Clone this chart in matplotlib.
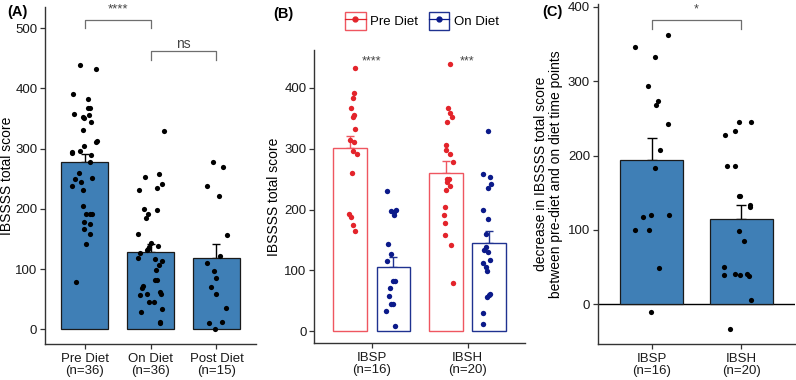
import numpy as np
import matplotlib.pyplot as plt
from matplotlib.patches import Rectangle
from matplotlib.lines import Line2D
from matplotlib.legend_handler import HandlerTuple

plt.rcParams['font.family'] = ['Liberation Sans', 'DejaVu Sans']

# ---- Panel A: all participants ----
a_labels = ['Pre Diet\n(n=36)', 'On Diet\n(n=36)', 'Post Diet\n(n=15)']
a_means = [277, 128, 118]
a_se = [14.5, 13, 24]

a_pre = [439, 431.5, 391, 383, 366.7, 366.7, 357, 352, 351, 355, 344, 331, 312.5, 311,
         305, 295, 293, 296, 290, 277.6, 260, 249, 244, 250.5, 238, 231.7, 204.6,
         191, 191, 191, 178.6, 175, 166, 158.6, 141, 79]
a_pre_jit = [-0.07, 0.18, -0.18, 0.056, 0.045, 0.085, -0.166, -0.03, -0.005, 0.07, 0.105,
             -0.025, 0.187, 0.18, -0.015, -0.185, -0.185, -0.065, 0.096, 0.08, -0.09, -0.15,
             -0.05, 0.116, -0.185, -0.02, -0.03, 0.015, 0.075, 0.115, -0.015, 0.086, -0.01,
             0.09, 0.026, -0.125]
a_on = [329, 253, 257, 242, 231, 235, 199, 198, 191, 185, 159, 144, 139, 134, 131, 136,
        127, 118, 116, 113, 107, 98, 82, 82, 72, 69, 62, 59, 57, 58.6, 46, 45, 33, 29,
        11, 12]
a_on_jit = [0.2, -0.086, 0.125, 0.18, -0.176, 0.105, -0.106, 0.105, -0.045, -0.066, -0.196,
            0.005, 0.12, -0.035, -0.055, -0.02, -0.156, -0.187, 0.065, 0.175, 0.125, 0.08,
            0.065, 0.1, -0.11, -0.125, 0.145, 0.16, -0.156, -0.06, -0.026, 0.055, 0.18,
            -0.146, 0.14, 0.15]
a_post = [277, 269, 238, 221, 156.5, 121.6, 110, 96, 84.6, 71, 59, 35, 12.6, 10, 0.5]
a_post_jit = [-0.056, 0.105, -0.146, 0.04, 0.16, 0.055, -0.146, -0.036, -0.005, -0.086,
              -0.005, 0.15, 0.085, -0.11, -0.015]

# ---- Panel B: by subgroup, pre vs on diet ----
b_labels = ['IBSP\n(n=16)', 'IBSH\n(n=20)']
b_pre_means = [300.5, 260.5]
b_pre_se = [20, 19]
b_on_means = [106, 145]
b_on_se = [16.5, 20]

b_ibsp_pre = [431.8, 391.8, 383.6, 366, 355, 351.4, 331.7, 314, 311.3, 296.6, 290.6, 260.4,
              192, 188, 175, 165]
b_ibsp_pre_jit = [0.055, 0.042, 0.031, 0.003, 0.042, 0.031, 0.049, 0.0, 0.042, 0.024, 0.066,
                  0.014, -0.01, 0.007, 0.028, 0.055]
b_ibsp_on = [231, 198, 196, 198.6, 190.5, 143, 127, 116, 82, 82, 70.6, 58.5, 45.4, 45.4,
             33.3, 9.3]
b_ibsp_on_jit = [-0.067, -0.028, 0.007, 0.027, 0.01, -0.056, -0.021, -0.067, 0.0, 0.021,
                 -0.038, -0.042, -0.028, -0.007, -0.073, 0.014]
b_ibsh_pre = [439.4, 367, 359, 352.4, 344, 306, 297.7, 292, 277.5, 250, 250, 244.6, 238.6,
              232, 204, 191, 178.4, 158.7, 141, 78.8]
b_ibsh_pre_jit = [0.038, 0.024, 0.038, 0.066, 0.006, 0.003, -0.004, 0.04, 0.076, 0.013, 0.03,
                  0.013, 0.038, -0.004, -0.011, -0.022, -0.015, -0.007, 0.048, 0.072]
b_ibsh_on = [329.4, 257.8, 253.9, 242.4, 234.8, 199, 185, 159, 139, 133.5, 130.7, 117, 113,
             105.6, 99, 61.8, 59.6, 56.3, 29.5, 11.5]
b_ibsh_on_jit = [-0.01, -0.063, 0.014, 0.021, -0.014, -0.06, -0.007, -0.028, -0.035, -0.049,
                 -0.014, 0.01, -0.063, -0.035, -0.018, 0.007, -0.003, -0.024, -0.063, -0.063]

# ---- Panel C: decrease in score ----
c_labels = ['IBSP\n(n=16)', 'IBSH\n(n=20)']
c_means = [194, 114]
c_se = [29, 19]
c_ibsp = [362.5, 346, 333.3, 293.4, 273.2, 267.4, 241.8, 208, 183, 116.7, 119.8, 119.8,
          99.2, 99.6, 48, -10.3]
c_ibsp_jit = [0.187, -0.183, 0.041, -0.037, 0.071, 0.053, 0.187, 0.097, 0.037, -0.097,
              -0.008, 0.194, -0.187, -0.026, 0.082, -0.004]
c_ibsh = [245.4, 245.4, 232.4, 227.5, 186, 185.7, 145.8, 145.8, 134, 130, 99, 84.8, 50.2,
          38.6, 40, 38.6, 40, 37.3, 5.8, -34]
c_ibsh_jit = [-0.03, 0.104, -0.067, -0.175, -0.157, -0.074, -0.022, -0.01, 0.1, 0.094, -0.02,
              0.027, -0.19, -0.19, -0.067, -0.015, 0.07, 0.082, 0.105, -0.123]

BLUE = '#3F7FB6'
RED_PT = '#E3242B'
RED_EDGE = '#EF5660'
NAVY_PT = '#0B1A8A'
NAVY_EDGE = '#1F3290'
AX_COL = '#333333'
BR_COL = '#6E6E6E'
TICK_FS = 9.5
LAB_FS = 10


def style(ax):
    for s in ['top', 'right']:
        ax.spines[s].set_visible(False)
    for s in ['left', 'bottom']:
        ax.spines[s].set_color(AX_COL)
        ax.spines[s].set_linewidth(1.0)
    ax.tick_params(axis='both', colors=AX_COL, labelcolor='#1a1a1a', labelsize=TICK_FS,
                   length=3.5, width=0.9, pad=2)
    ax.tick_params(axis='x', pad=3)
    for t in ax.get_xticklabels():
        t.set_linespacing(1.0)


def bracket(ax, x1, x2, y, drop, label, ty, size=8):
    ax.plot([x1, x1, x2, x2], [y - drop, y, y, y - drop], color=BR_COL, lw=0.9,
            clip_on=False)
    ax.text((x1 + x2) / 2, ty, label, ha='center', va='center', fontsize=size,
            color='#444444', clip_on=False)


fig = plt.figure(figsize=(7.96, 3.8), dpi=100)

# Panel A
axA = fig.add_axes([45 / 796, 36 / 380, 211 / 796, 337 / 380])
xa = np.arange(3)
axA.errorbar(xa, a_means, yerr=[np.zeros(3), a_se], fmt='none', ecolor='black',
             elinewidth=1, capsize=3.2, capthick=1, zorder=1)
axA.bar(xa, a_means, width=0.7, color=BLUE, edgecolor='#1a1a1a', linewidth=0.9, zorder=2)
for i, (vals, jit) in enumerate([(a_pre, a_pre_jit), (a_on, a_on_jit), (a_post, a_post_jit)]):
    axA.scatter(i + np.array(jit), vals, s=14, color='black', zorder=3, linewidths=0)
axA.set_xlim(-0.6, 2.6)
axA.set_ylim(-24.4, 535)
axA.set_yticks([0, 100, 200, 300, 400, 500])
axA.set_xticks(xa)
axA.set_xticklabels(a_labels)
axA.set_ylabel('IBSSSS total score', fontsize=LAB_FS)
axA.yaxis.set_label_coords(-0.147, 0.5)
style(axA)
bracket(axA, 0, 1, 514, 13.5, '****', 531, size=9.5)
bracket(axA, 1, 2, 462, 15, 'ns', 474, size=10)
fig.text(7 / 796, 1 - 12 / 380, '(A)', fontsize=10.5, fontweight='bold', va='center')

# Panel B
axB = fig.add_axes([314.3 / 796, 36.7 / 380, 210.7 / 796, 293.3 / 380])
xb = np.arange(2)
off = 0.225
axB.errorbar(xb - off, b_pre_means, yerr=[np.zeros(2), b_pre_se], fmt='none', ecolor=RED_EDGE,
             elinewidth=1, capsize=3, capthick=1, zorder=1)
axB.errorbar(xb + off, b_on_means, yerr=[np.zeros(2), b_on_se], fmt='none', ecolor=NAVY_EDGE,
             elinewidth=1, capsize=3, capthick=1, zorder=1)
axB.bar(xb - off, b_pre_means, width=0.35, color='white', edgecolor=RED_EDGE, linewidth=1.0,
        zorder=2)
axB.bar(xb + off, b_on_means, width=0.35, color='white', edgecolor=NAVY_EDGE, linewidth=1.0,
        zorder=2)
axB.scatter(0 - off + np.array(b_ibsp_pre_jit), b_ibsp_pre, s=15, color=RED_PT, zorder=3,
            linewidths=0)
axB.scatter(1 - off + np.array(b_ibsh_pre_jit), b_ibsh_pre, s=15, color=RED_PT, zorder=3,
            linewidths=0)
axB.scatter(0 + off + np.array(b_ibsp_on_jit), b_ibsp_on, s=15, color=NAVY_PT, zorder=3,
            linewidths=0)
axB.scatter(1 + off + np.array(b_ibsh_on_jit), b_ibsh_on, s=15, color=NAVY_PT, zorder=3,
            linewidths=0)
axB.set_xlim(-0.6, 1.6)
axB.set_ylim(-19.7, 462)
axB.set_yticks([0, 100, 200, 300, 400])
axB.set_xticks(xb)
axB.set_xticklabels(b_labels)
axB.set_ylabel('IBSSSS total score', fontsize=LAB_FS)
axB.yaxis.set_label_coords(-0.158, 0.5)
style(axB)
axB.text(0, 444, '****', ha='center', va='center', fontsize=9, color='#444444')
axB.text(1, 444, '***', ha='center', va='center', fontsize=9, color='#444444')
fig.text(273 / 796, 1 - 14 / 380, '(B)', fontsize=10.5, fontweight='bold', va='center')

h_pre = (Rectangle((0, 0), 1, 1, facecolor='white', edgecolor=RED_EDGE, linewidth=1.0),
         Line2D([], [], color=RED_PT, marker='o', markersize=3.5, linewidth=0.9))
h_on = (Rectangle((0, 0), 1, 1, facecolor='white', edgecolor=NAVY_EDGE, linewidth=1.0),
        Line2D([], [], color=NAVY_PT, marker='o', markersize=3.5, linewidth=0.9))
fig.legend([h_pre, h_on], ['Pre Diet', 'On Diet'], handler_map={tuple: HandlerTuple(ndivide=1)},
           loc='center', bbox_to_anchor=(422 / 796, 1 - 21 / 380), ncol=2, frameon=False,
           fontsize=9.5, handlelength=1.55, handleheight=1.7, handletextpad=0.35,
           columnspacing=0.8, borderpad=0.2)

# Panel C
axC = fig.add_axes([597.7 / 796, 36 / 380, 197.3 / 796, 340 / 380])
xc = np.arange(2)
axC.axhline(0, color='black', lw=1.0, zorder=1.5)
axC.errorbar(xc, c_means, yerr=[np.zeros(2), c_se], fmt='none', ecolor='black',
             elinewidth=1, capsize=3.8, capthick=1, zorder=1)
axC.bar(xc, c_means, width=0.7, color=BLUE, edgecolor='#1a1a1a', linewidth=0.9, zorder=2)
axC.scatter(0 + np.array(c_ibsp_jit), c_ibsp, s=14, color='black', zorder=3, linewidths=0)
axC.scatter(1 + np.array(c_ibsh_jit), c_ibsh, s=14, color='black', zorder=3, linewidths=0)
axC.set_xlim(-0.6, 1.6)
axC.set_ylim(-53.8, 404)
axC.set_yticks([0, 100, 200, 300, 400])
axC.set_xticks(xc)
axC.set_xticklabels(c_labels)
axC.set_ylabel('decrease in IBSSSS total score\nbetween pre-diet and on diet time points',
               fontsize=LAB_FS, linespacing=1.05)
axC.yaxis.set_label_coords(-0.178, 0.5)
style(axC)
bracket(axC, 0, 1, 383, 12, '*', 397, size=9)
fig.text(542 / 796, 1 - 12 / 380, '(C)', fontsize=10.5, fontweight='bold', va='center')

fig.savefig('out.png', dpi=100)
